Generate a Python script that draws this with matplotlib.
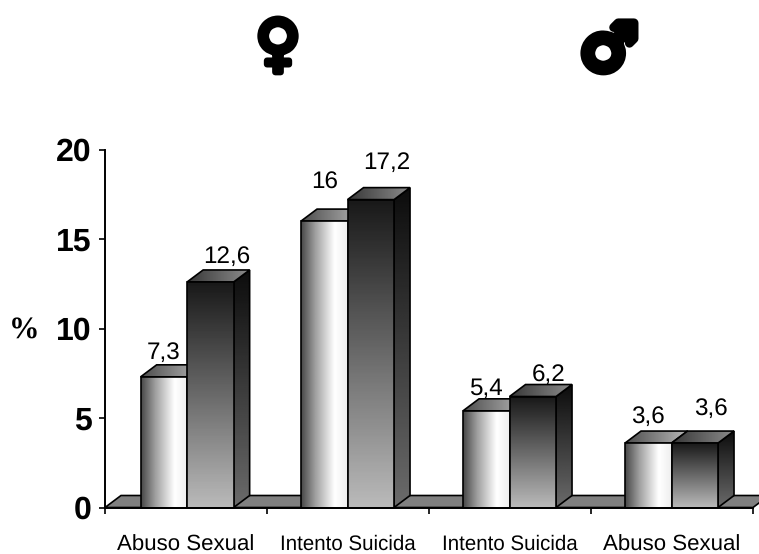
import numpy as np
import matplotlib
matplotlib.use('Agg')
import matplotlib.pyplot as plt
from matplotlib.patches import Polygon
import matplotlib.patheffects as pe

categories = ['Abuso Sexual', 'Intento Suicida', 'Intento Suicida', 'Abuso Sexual']
category_sizes = [16, 14.8, 14.8, 16]
light_values = [7.3, 16, 5.4, 3.6]
dark_values = [12.6, 17.2, 6.2, 3.6]
y_ticks = [0, 5, 10, 15, 20]

# where each group's first bar starts, in axis units, and label lift in pixels
group_starts = [0.22, 1.21, 2.21, 3.21]
light_label_dy = [18, 32, 16, 20]
dark_label_dy = [19, 31, 16, 28]

W, H = 759, 554
plt.rcParams['font.family'] = ['Liberation Sans', 'DejaVu Sans']
plt.rcParams['text.hinting'] = 'no_hinting'
fig = plt.figure(figsize=(W / 100, H / 100), dpi=100)
ax = fig.add_axes([105 / W, 1 - 507.5 / H, 648 / W, 358 / H])
ax.set_xlim(0, 4)
ax.set_ylim(0, 20)

# 3D depth, converted to data units
dx = 16 / 162
dy = 12 / 17.9
bar_w = 46.5 / 162


def gradient_face(points, stops, horizontal, zorder):
    # paint a gradient over the polygon's bounding box and clip it to the polygon
    pts = np.array(points)
    x0, x1 = pts[:, 0].min(), pts[:, 0].max()
    y0, y1 = pts[:, 1].min(), pts[:, 1].max()
    pos = np.linspace(0, 1, 128)
    g = np.interp(pos, [s[0] for s in stops], [s[1] for s in stops])
    img = g[None, :] if horizontal else g[:, None]
    im = ax.imshow(img, extent=(x0, x1, y0, y1), origin='upper', cmap='gray',
                   vmin=0, vmax=1, aspect='auto', interpolation='bilinear', zorder=zorder)
    poly = Polygon(points, closed=True, facecolor='none', edgecolor='black',
                   linewidth=1.2, zorder=zorder + 0.1, clip_on=False, joinstyle='miter')
    ax.add_patch(poly)
    im.set_clip_box(fig.bbox)
    im.set_clip_path(poly)


light_front = [(0, 0.28), (0.3, 0.62), (0.72, 1.0), (1, 0.93)]
light_top = [(0, 0.3), (1, 0.72)]
dark_front = [(0, 0.1), (1, 0.73)]
dark_top = [(0, 0.22), (1, 0.55)]
dark_side = [(0, 0.05), (1, 0.42)]


def draw_bar(x, value, front, top, side, zorder, horizontal_front):
    gradient_face([(x + bar_w, 0), (x + bar_w + dx, dy), (x + bar_w + dx, value + dy), (x + bar_w, value)],
                  side, False, zorder)
    gradient_face([(x, value), (x + dx, value + dy), (x + bar_w + dx, value + dy), (x + bar_w, value)],
                  top, True, zorder + 0.2)
    gradient_face([(x, 0), (x + bar_w, 0), (x + bar_w, value), (x, value)],
                  front, horizontal_front, zorder + 0.4)


# grey floor behind the bars
floor = Polygon([(0, 0), (dx, dy), (4 + dx, dy), (4, 0)], closed=True, facecolor='#808080',
                edgecolor='black', linewidth=1.2, zorder=1, clip_on=False)
ax.add_patch(floor)

for i in range(4):
    x_light = group_starts[i]
    x_dark = x_light + bar_w
    draw_bar(x_light, light_values[i], light_front, light_top, [(0, 0.3), (1, 0.5)], 2 + i, True)
    draw_bar(x_dark, dark_values[i], dark_front, dark_top, dark_side, 2.5 + i, False)

    ax.annotate(f'{light_values[i]:g}'.replace('.', ','), (x_light + bar_w / 2, light_values[i]),
                xytext=(0, light_label_dy[i] * 0.72), textcoords='offset points',
                ha='center', va='baseline', fontsize=17.5, zorder=20, annotation_clip=False)
    ax.annotate(f'{dark_values[i]:g}'.replace('.', ','), (x_dark + bar_w / 2 + dx, dark_values[i]),
                xytext=(0, dark_label_dy[i] * 0.72), textcoords='offset points',
                ha='center', va='baseline', fontsize=17.5, zorder=20, annotation_clip=False)

ax.set_facecolor('none')
for s in ['top', 'right']:
    ax.spines[s].set_visible(False)
for s in ['left', 'bottom']:
    ax.spines[s].set_linewidth(1.4)
    ax.spines[s].set_zorder(15)
ax.set_yticks(y_ticks)
ax.set_yticklabels([str(t) for t in y_ticks], fontsize=23, fontweight='bold')
ax.set_xticks(range(5))
ax.set_xticklabels([])
ax.tick_params(axis='y', length=4.5, width=1.2, pad=5)
ax.tick_params(axis='x', length=4, width=1.2)
ax.set_xticks([0.5, 1.5, 2.5, 3.5], categories, minor=True)
for lab, size in zip(ax.get_xticklabels(minor=True), category_sizes):
    lab.set_fontsize(size)
ax.tick_params(axis='x', which='minor', length=0, pad=19.5)

fig.text(24 / W, 1 - 331 / H, '%', family='Liberation Serif', fontsize=22, fontweight='bold',
         ha='center', va='center')

# gender symbols above the two halves
fig.text(278 / W, 1 - 47 / H, '\u2640', family='DejaVu Sans', fontsize=45, fontweight='bold',
         ha='center', va='center', path_effects=[pe.withStroke(linewidth=4.5, foreground='black')])
fig.text(609 / W, 1 - 52 / H, '\u2642', family='DejaVu Sans', fontsize=47, fontweight='bold',
         ha='center', va='center', path_effects=[pe.withStroke(linewidth=6.5, foreground='black')])

fig.savefig('out.png', dpi=100)
